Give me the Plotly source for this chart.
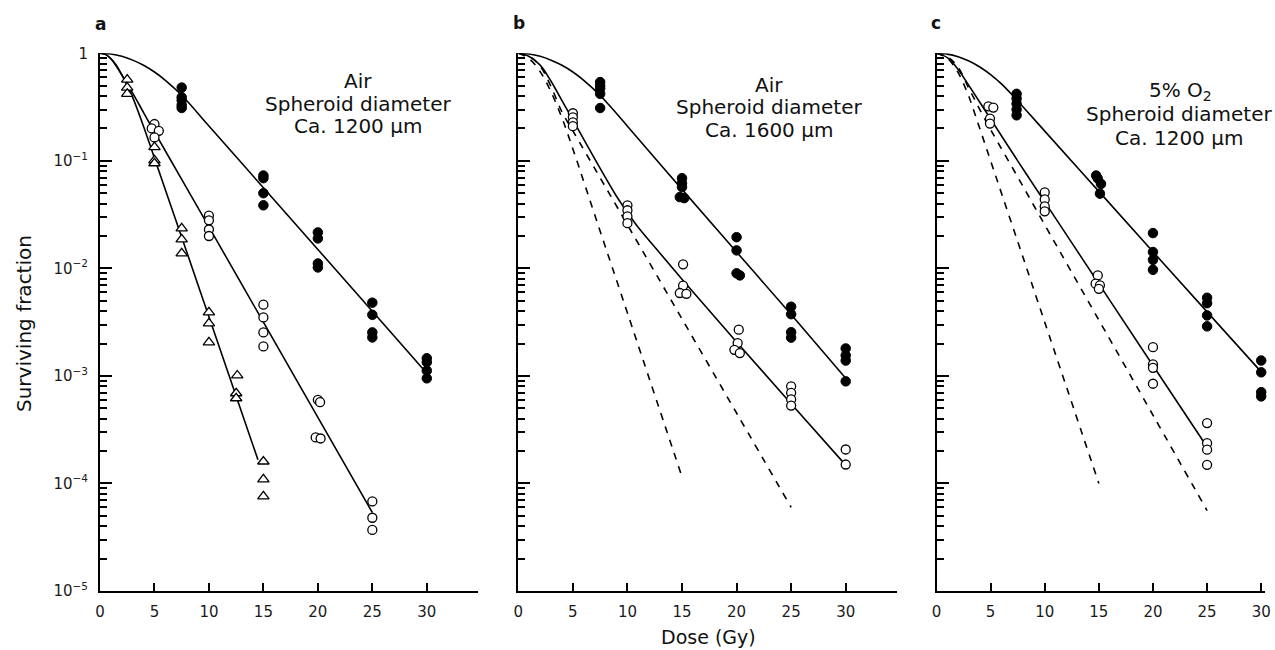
import plotly.graph_objects as go

# ---------------- data ----------------
# Panel a : Air, ~1200 um
a_closed_x = [7.5, 7.5, 7.5, 7.5, 7.5, 15, 15, 15, 15, 20, 20, 20, 20, 25, 25, 25, 25, 30, 30, 30, 30]
a_closed_y = [0.48, 0.39, 0.365, 0.33, 0.31, 0.073, 0.069, 0.050, 0.0386, 0.0216, 0.019, 0.0111, 0.0102,
              0.0048, 0.0037, 0.00254, 0.00228, 0.00146, 0.00134, 0.00112, 0.00095]
a_open_x = [5.0, 4.75, 5.4, 5.0, 10, 10, 10, 10, 15, 15, 15, 15, 20.0, 20.2, 19.8, 20.25, 25, 25, 25]
a_open_y = [0.22, 0.20, 0.19, 0.165, 0.031, 0.028, 0.023, 0.020, 0.0046, 0.0035, 0.00254, 0.00188,
            6.0e-4, 5.7e-4, 2.68e-4, 2.62e-4, 6.8e-5, 4.8e-5, 3.7e-5]
a_tri_x = [2.5, 2.5, 2.5, 5, 5, 5, 7.5, 7.5, 7.5, 10, 10, 10, 12.6, 12.5, 12.5, 15, 15, 15]
a_tri_y = [0.57, 0.48, 0.42, 0.134, 0.101, 0.095, 0.0236, 0.0186, 0.0138, 3.9e-3, 3.08e-3, 2.05e-3,
           1.01e-3, 6.9e-4, 6.2e-4, 1.6e-4, 1.09e-4, 7.6e-5]
a_fit_closed_x = [0, 1, 2, 3, 4, 5, 6, 7.5, 10, 15, 20, 25, 30]
a_fit_closed_y = [1, 0.984, 0.937, 0.864, 0.774, 0.67, 0.561, 0.407, 0.211, 0.0562, 0.0150, 0.0040, 0.00106]
a_fit_open_x = [0, 0.5, 1, 2, 3, 4, 5, 7.5, 10, 15, 20, 25]
a_fit_open_y = [1, 0.977, 0.89, 0.63, 0.427, 0.281, 0.186, 0.0672, 0.0243, 3.16e-3, 4.12e-4, 5.37e-5]
a_fit_tri_x = [0, 0.5, 1, 1.5, 2, 2.5, 3, 4, 5, 7.5, 10, 12.5, 14.5]
a_fit_tri_y = [1, 0.977, 0.89, 0.776, 0.63, 0.50, 0.389, 0.209, 0.106, 0.0195, 3.55e-3, 6.46e-4, 1.66e-4]

# Panel b : Air, ~1600 um
b_closed_x = [7.5, 7.5, 7.5, 7.5, 7.5, 15, 15, 15, 14.8, 15.2, 20, 20, 20, 20.3, 25, 25, 25, 25, 30, 30, 30, 30]
b_closed_y = [0.54, 0.50, 0.47, 0.42, 0.31, 0.069, 0.062, 0.057, 0.046, 0.045, 0.0195, 0.0147, 0.009, 0.0086,
              4.4e-3, 3.75e-3, 2.55e-3, 2.27e-3, 1.8e-3, 1.55e-3, 1.39e-3, 8.9e-4]
b_open_x = [5, 5, 5, 5, 10, 10, 10, 10, 15.1, 15.1, 14.8, 15.4, 20.2, 20.1, 19.8, 20.3, 25, 25, 25, 25, 30, 30]
b_open_y = [0.277, 0.254, 0.228, 0.21, 0.0386, 0.0347, 0.0305, 0.0263, 0.0109, 6.9e-3, 5.9e-3, 5.8e-3,
            2.69e-3, 2.02e-3, 1.75e-3, 1.63e-3, 8.0e-4, 6.97e-4, 6.04e-4, 5.3e-4, 2.07e-4, 1.5e-4]
b_fit_closed_x = [0, 1, 2, 3, 4, 5, 6, 7.5, 8.4, 10, 15, 20, 25, 30]
b_fit_closed_y = [1, 0.984, 0.937, 0.863, 0.774, 0.67, 0.561, 0.406, 0.323, 0.21, 0.0543, 0.0142, 0.00372, 0.00095]
b_fit_open_x = [0, 1, 2, 3, 4, 5, 6, 7.5, 9, 10, 11, 12.5, 15, 20, 25, 30]
b_fit_open_y = [1, 0.933, 0.776, 0.55, 0.363, 0.24, 0.158, 0.0851, 0.0468, 0.0331, 0.024, 0.0158, 7.94e-3,
                2.07e-3, 5.5e-4, 1.48e-4]
b_dash1_x = [0, 1, 2, 3, 4, 5, 7.5, 10, 15]
b_dash1_y = [1, 0.89, 0.676, 0.437, 0.251, 0.129, 0.0222, 3.85e-3, 1.15e-4]
b_dash2_x = [0, 1, 2, 3, 4, 5, 7.5, 10, 15, 20, 25]
b_dash2_y = [1, 0.94, 0.76, 0.49, 0.285, 0.19, 0.0695, 0.0254, 3.39e-3, 4.52e-4, 6.0e-5]

# Panel c : 5% O2, ~1200 um
c_closed_x = [7.4, 7.4, 7.4, 7.4, 7.4, 14.75, 14.9, 15.2, 15.1, 20, 20, 20, 20, 25, 25, 25, 25, 30, 30, 30, 30]
c_closed_y = [0.42, 0.38, 0.34, 0.30, 0.265, 0.073, 0.0685, 0.061, 0.0495, 0.0213, 0.0142, 0.012, 0.0097,
              5.33e-3, 4.75e-3, 3.65e-3, 2.89e-3, 1.39e-3, 1.08e-3, 7.06e-4, 6.45e-4]
c_open_x = [4.79, 5.25, 4.94, 4.94, 10, 10, 10, 10, 14.9, 14.7, 15.1, 15.0, 20, 20, 20, 20, 25, 25, 25, 25]
c_open_y = [0.321, 0.313, 0.247, 0.222, 0.051, 0.0438, 0.0377, 0.0339, 8.6e-3, 7.2e-3, 6.95e-3, 6.46e-3,
            1.85e-3, 1.28e-3, 1.19e-3, 8.46e-4, 3.64e-4, 2.37e-4, 2.06e-4, 1.49e-4]
c_fit_closed_x = [0, 1, 2, 3, 4, 5, 6, 7.07, 10, 15, 20, 25, 30]
c_fit_closed_y = [1, 0.982, 0.929, 0.848, 0.746, 0.634, 0.519, 0.402, 0.189, 0.052, 0.0143, 0.00394, 0.00109]
c_fit_open_x = [0, 1, 2, 3, 4, 5, 7.5, 10, 15, 20, 25]
c_fit_open_y = [1, 0.912, 0.708, 0.50, 0.351, 0.245, 0.10, 0.0415, 7.2e-3, 1.25e-3, 2.18e-4]
c_dash1_x = [0, 1, 2, 3, 3.33, 4, 5, 7.5, 10, 15]
c_dash1_y = [1, 0.902, 0.661, 0.394, 0.316, 0.2, 0.10, 0.0178, 3.16e-3, 1.0e-4]
c_dash2_x = [0, 1, 2, 3, 4, 5, 7.5, 10, 15, 20, 25]
c_dash2_y = [1, 0.93, 0.74, 0.47, 0.30, 0.195, 0.0708, 0.0254, 3.31e-3, 4.32e-4, 5.6e-5]

x_ticks = [0, 5, 10, 15, 20, 25, 30]
y_ticks = [1e-5, 1e-4, 1e-3, 1e-2, 1e-1, 1]
y_ticktext = ["10<sup>\u22125</sup>", "10<sup>\u22124</sup>", "10<sup>\u22123</sup>",
              "10<sup>\u22122</sup>", "10<sup>\u22121</sup>", "1"]
y_minor = [k * 10.0 ** d for d in range(-5, 0) for k in range(2, 10)]

# ---------------- figure ----------------
W, H = 1275, 650
FONT = "DejaVu Sans"
fig = go.Figure()

def px_x(p):
    return p / W

def px_y(p):
    return 1 - p / H

def line(x, y, ax, dash="solid"):
    fig.add_trace(go.Scatter(x=x, y=y, mode="lines", xaxis=ax[0], yaxis=ax[1],
                             line=dict(color="black", width=1.6, dash=dash, shape="spline", smoothing=1.0),
                             cliponaxis=False, hoverinfo="skip"))

def pts(x, y, ax, kind):
    if kind == "closed":
        m = dict(symbol="circle", size=9.5, color="black", line=dict(color="black", width=1))
    elif kind == "open":
        m = dict(symbol="circle", size=9, color="white", line=dict(color="black", width=1.3))
    else:
        m = dict(symbol="triangle-up", size=10, color="white", line=dict(color="black", width=1.3))
    fig.add_trace(go.Scatter(x=x, y=y, mode="markers", xaxis=ax[0], yaxis=ax[1], marker=m,
                             cliponaxis=False))

A = ("x", "y"); B = ("x2", "y2"); C = ("x3", "y3")
DASH = "7px,7px"

line(a_fit_closed_x, a_fit_closed_y, A)
line(a_fit_open_x, a_fit_open_y, A)
line(a_fit_tri_x, a_fit_tri_y, A)
pts(a_closed_x, a_closed_y, A, "closed")
pts(a_open_x, a_open_y, A, "open")
pts(a_tri_x, a_tri_y, A, "tri")

line(b_dash1_x, b_dash1_y, B, DASH)
line(b_dash2_x, b_dash2_y, B, DASH)
line(b_fit_closed_x, b_fit_closed_y, B)
line(b_fit_open_x, b_fit_open_y, B)
pts(b_closed_x, b_closed_y, B, "closed")
pts(b_open_x, b_open_y, B, "open")

line(c_dash1_x, c_dash1_y, C, DASH)
line(c_dash2_x, c_dash2_y, C, DASH)
line(c_fit_closed_x, c_fit_closed_y, C)
line(c_fit_open_x, c_fit_open_y, C)
pts(c_closed_x, c_closed_y, C, "closed")
pts(c_open_x, c_open_y, C, "open")

y_dom = [px_y(591), px_y(53.3)]
tickfont = dict(family=FONT, size=15, color="#1a1a1a")

def xaxis(dom, rng, anchor):
    return dict(domain=dom, range=rng, anchor=anchor, showline=True, linecolor="black", linewidth=2,
                ticks="inside", ticklen=8, tickwidth=2, tickcolor="black", tickmode="array",
                tickvals=x_ticks, showgrid=False, zeroline=False, tickfont=tickfont,
                ticklabelstandoff=6, automargin=False, fixedrange=True)

def yaxis(anchor, labels):
    d = dict(domain=y_dom, type="log", range=[-5, 0], anchor=anchor, showline=True, linecolor="black",
             linewidth=2, ticks="inside", ticklen=12, tickwidth=2, tickcolor="black", tickmode="array",
             tickvals=y_ticks, showgrid=False, zeroline=False, tickfont=tickfont, automargin=False,
             minor=dict(ticks="inside", ticklen=7, tickwidth=1.6, tickcolor="black", tickmode="array",
                        tickvals=y_minor, showgrid=False),
             fixedrange=True)
    if labels:
        d.update(ticktext=y_ticktext, ticklabelstandoff=7)
    else:
        d.update(showticklabels=False)
    return d

fig.update_layout(
    width=W, height=H, autosize=False,
    margin=dict(l=0, r=0, t=0, b=0),
    paper_bgcolor="white", plot_bgcolor="white", showlegend=False,
    xaxis=xaxis([px_x(100), px_x(478)], [0, 34.7], "y"),
    xaxis2=xaxis([px_x(518.3), px_x(897)], [0, 34.7], "y2"),
    xaxis3=xaxis([px_x(936.5), px_x(1265)], [0, 30.35], "y3"),
    yaxis=yaxis("x", True),
    yaxis2=yaxis("x2", False),
    yaxis3=yaxis("x3", False),
)

def text(t, xp, yp, size=20, bold=False, rot=0):
    fig.add_annotation(text=("<b>%s</b>" % t) if bold else t, x=px_x(xp), y=px_y(yp),
                       xref="paper", yref="paper", showarrow=False, xanchor="center", yanchor="middle",
                       textangle=rot, font=dict(family=FONT, size=size, color="#111"))

text("a", 101, 24, size=17, bold=True)
text("b", 519, 23, size=17, bold=True)
text("c", 936, 23, size=17, bold=True)

text("Air", 358, 81)
text("Spheroid diameter", 358, 103.5)
text("Ca. 1200 \u03bcm", 358, 126)

text("Air", 769, 84.5)
text("Spheroid diameter", 769, 107.5)
text("Ca. 1600 \u03bcm", 769, 130)

text("5% O<sub>2</sub>", 1180, 91)
text("Spheroid diameter", 1179, 114.5)
text("Ca. 1200 \u03bcm", 1179, 138)

text("Surviving fraction", 24, 324, rot=-90)
text("Dose (Gy)", 708, 637, size=19)

fig.write_html("out.html", config={"displayModeBar": False},
               post_script="document.body.style.margin='0';document.body.style.overflow='hidden';")
